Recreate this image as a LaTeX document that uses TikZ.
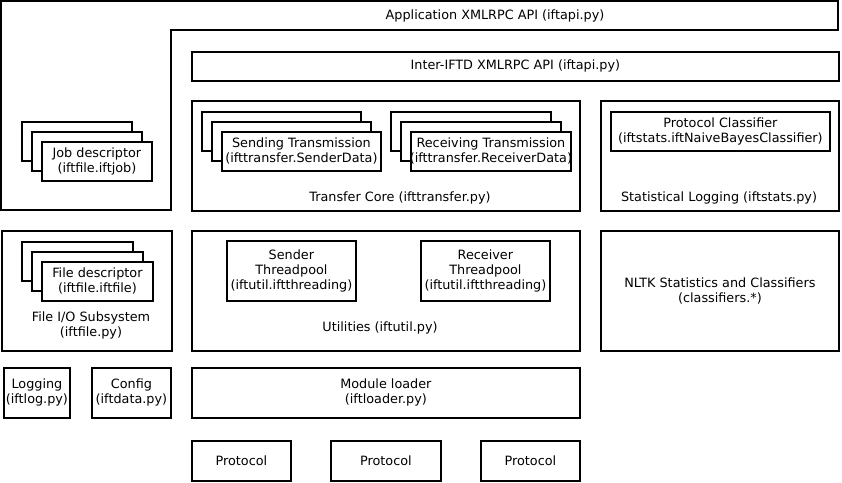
\documentclass[tikz,border=0pt]{standalone}
\usepackage{fontspec}
\setmainfont{DejaVu Sans}
\begin{document}
\begin{tikzpicture}[x=1pt,y=-1pt,
  box/.style={draw, line width=1.8pt, fill=white, inner sep=0pt},
  txt/.style={align=center, inner sep=0pt, font=\fontsize{12.8}{15}\selectfont}]
\useasboundingbox (0,0) rectangle (842,482);
\newcommand{\bx}[5]{\node[box, anchor=north west, minimum width=#4-#2, minimum height=#5-#3] (#1) at (#2,#3) {};}
% L-shaped application API
\coordinate (appA) at (1,1);
\draw[line width=1.8pt, fill=white] (appA) -- (838,1) -- (838,30) -- (171,30) -- (171,210) -- (1,210) -- cycle;
\node[txt] (apptxt) at (495,16) {Application XMLRPC API (iftapi.py)};
% Inter-IFTD
\bx{inter}{191}{51}{838}{80}
\node[txt] at (inter.center) {Inter-IFTD XMLRPC API (iftapi.py)};
% Transfer core
\bx{core}{191}{100}{579}{210}
\node[txt] (coretxt) at (400,198) {Transfer Core (ifttransfer.py)};
\bx{s1}{201}{111}{360}{150}
\bx{s2}{211}{121}{370}{160}
\bx{s3}{221}{131}{380}{170}
\node[txt] at (s3.center) {Sending Transmission\\(ifttransfer.SenderData)};
\bx{r1}{390}{111}{550}{150}
\bx{r2}{400}{121}{560}{160}
\bx{r3}{410}{131}{570}{170}
\node[txt] at (r3.center) {Receiving Transmission\\(ifttransfer.ReceiverData)};
% Stats
\bx{stats}{600}{100}{838}{210}
\node[txt] (statstxt) at (719,198) {Statistical Logging (iftstats.py)};
\bx{cls}{610}{111}{829}{150}
\node[txt] at (cls.center) {Protocol Classifier\\(iftstats.iftNaiveBayesClassifier)};
% Job descriptor
\bx{j1}{21}{121}{131}{160}
\bx{j2}{31}{131}{141}{170}
\bx{j3}{41}{141}{151}{180}
\node[txt] at (j3.center) {Job descriptor\\(iftfile.iftjob)};
% File I/O
\bx{fio}{1}{230}{171}{350}
\bx{f1}{21}{241}{132}{280}
\bx{f2}{31}{251}{142}{290}
\bx{f3}{41}{261}{152}{300}
\node[txt] at (f3.center) {File descriptor\\(iftfile.iftfile)};
\node[txt] (fiotxt) at (91,325) {File I/O Subsystem\\(iftfile.py)};
% Utilities
\bx{util}{191}{230}{579}{350}
\bx{stp}{226}{240}{355}{300}
\node[txt] at (stp.center) {Sender\\Threadpool\\(iftutil.iftthreading)};
\bx{rtp}{420}{240}{549}{300}
\node[txt] at (rtp.center) {Receiver\\Threadpool\\(iftutil.iftthreading)};
\node[txt] (utiltxt) at (380,328) {Utilities (iftutil.py)};
% NLTK
\bx{nltk}{600}{230}{838}{350}
\node[txt] at (nltk.center) {NLTK Statistics and Classifiers\\(classifiers.*)};
% Logging / Config
\bx{log}{3}{367}{69}{417}
\node[txt] at (log.center) {Logging\\(iftlog.py)};
\bx{cfg}{91}{367}{170}{417}
\node[txt] at (cfg.center) {Config\\(iftdata.py)};
% Module loader
\bx{mod}{191}{367}{579}{417}
\node[txt] at (mod.center) {Module loader\\(iftloader.py)};
% Protocols
\bx{p1}{191}{440}{290}{480}
\node[txt] at (p1.center) {Protocol};
\bx{p2}{330}{440}{440}{480}
\node[txt] at (p2.center) {Protocol};
\bx{p3}{480}{440}{579}{480}
\node[txt] at (p3.center) {Protocol};
\end{tikzpicture}
\end{document}
